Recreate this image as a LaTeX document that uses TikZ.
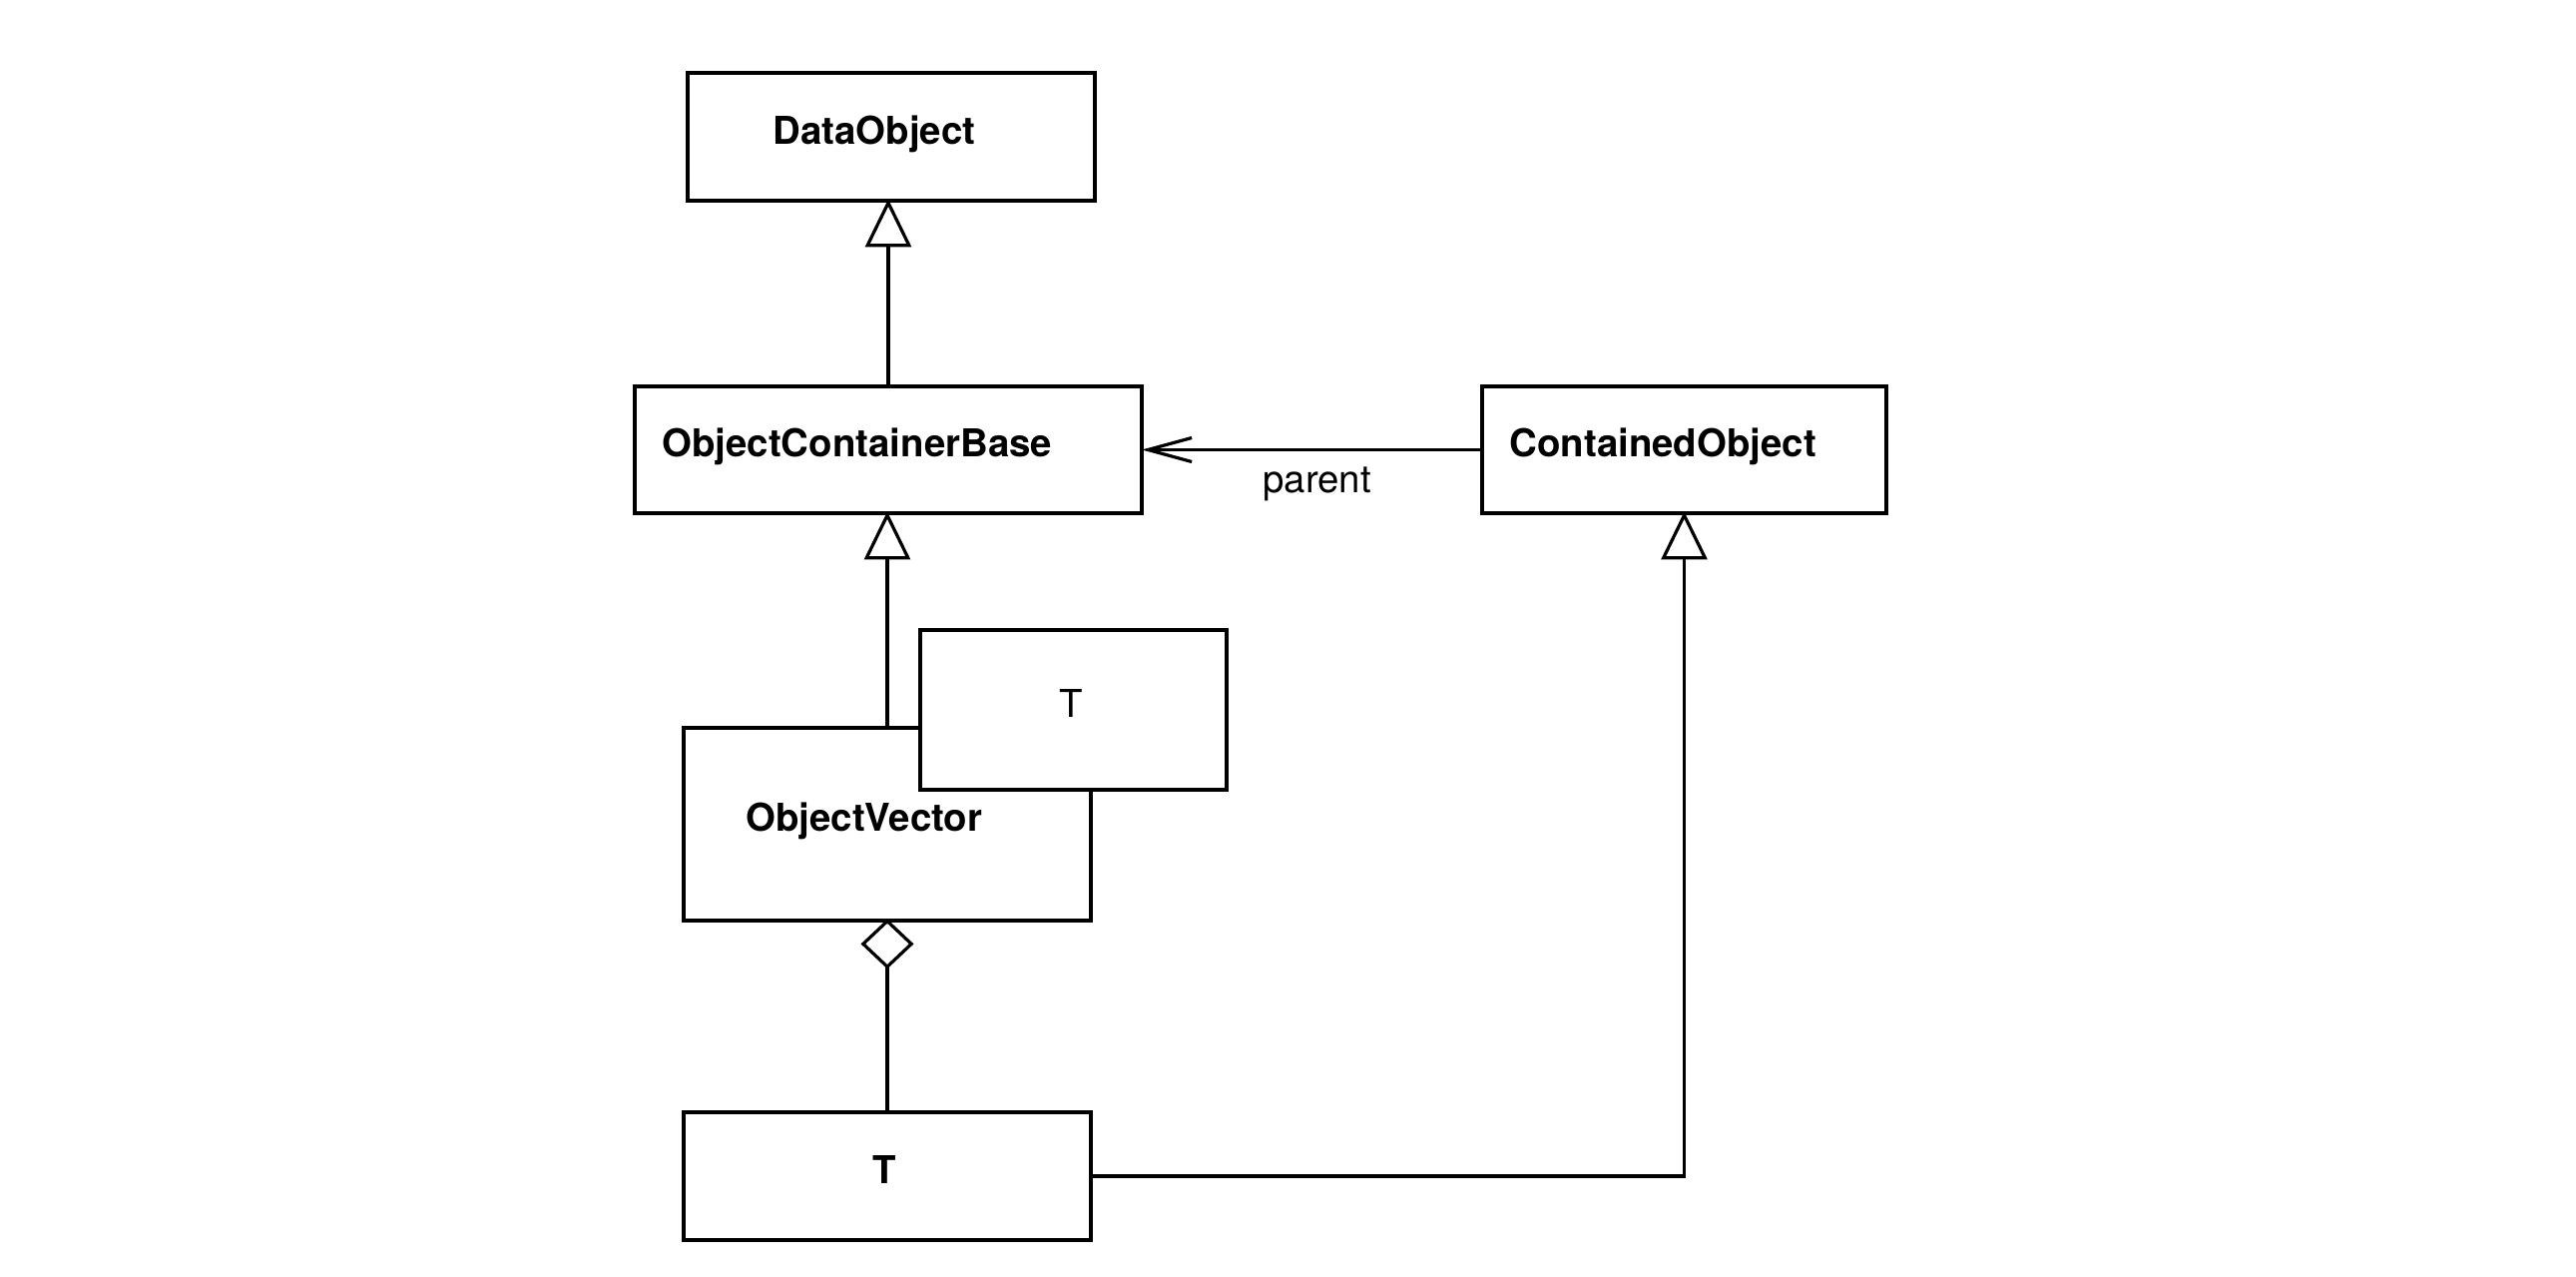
\documentclass[tikz,border=0pt]{standalone}
\usepackage{fontspec}
\setmainfont{TeX Gyre Heros}
\usetikzlibrary{arrows.meta}
\tikzset{
  box/.style={draw, line width=1.6pt, fill=white, inner sep=0pt, outer sep=0pt},
  cname/.style={inner sep=0pt, anchor=base west, font=\fontsize{19.2pt}{23pt}\selectfont\bfseries},
  plain/.style={inner sep=0pt, font=\fontsize{19.2pt}{23pt}\selectfont},
  conn/.style={line width=1.6pt},
  gen/.style={conn, shorten >=-0.8pt, -{Triangle[open, length=24pt, width=23pt]}},
  agg/.style={conn, shorten <=-0.8pt, {Diamond[open, length=25pt, width=26.5pt]}-},
  nav/.style={conn, -{Straight Barb[length=22pt, width=12pt]}}
}
\begin{document}
\begin{tikzpicture}[x=0.5pt, y=-0.5pt]
\useasboundingbox (0,0) rectangle (2581,1279);
% boxes
\node[box, minimum width=204pt, minimum height=64pt] (DO) at (893,137) {};
\node[box, minimum width=254pt, minimum height=63.5pt] (OCB) at (890,450.5) {};
\node[box, minimum width=202.5pt, minimum height=63.5pt] (CO) at (1687.5,450.5) {};
\node[box, minimum width=204pt, minimum height=96.5pt] (OV) at (889,825.5) {};
\node[box, minimum width=153.5pt, minimum height=80pt] (TP) at (1075.5,711) {};
\node[box, minimum width=204pt, minimum height=64pt] (TB) at (889,1178) {};
% texts
\node[cname] (tDO) at (774,145) {DataObject};
\node[cname] (tOCB) at (663,457) {ObjectContainerBase};
\node[cname] (tCO) at (1512,457) {ContainedObject};
\node[cname] (tOV) at (747,832) {ObjectVector};
\node[plain, anchor=base] (tTP) at (1073,718) {T};
\node[plain, anchor=base, font=\fontsize{19.2pt}{23pt}\selectfont\bfseries] (tTB) at (886,1185) {T};
% connectors
\draw[gen] (OCB.north) -- (OCB.north |- DO.south);
\draw[gen] (OV.north) -- (OV.north |- OCB.south);
\draw[nav] (CO.west) -- (OCB.east |- CO.west);
\node[plain, anchor=base west] (lparent) at (1265,493) {parent};
\draw[agg] (OV.south) -- (TB.north);
\draw[gen] (TB.east) -| (CO.south);
\end{tikzpicture}
\end{document}
